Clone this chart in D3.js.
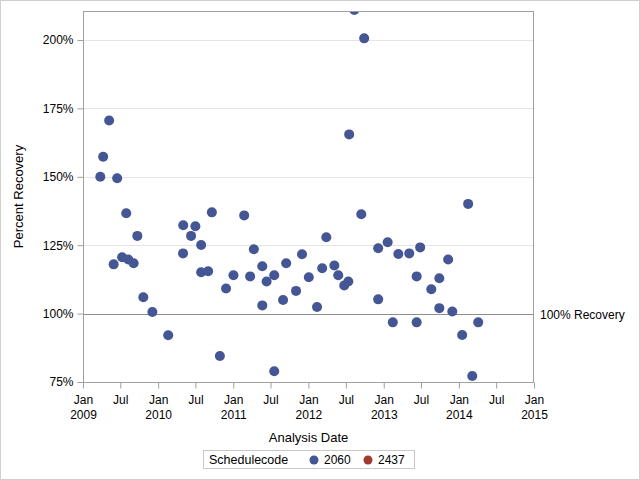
<!DOCTYPE html>
<html>
<head>
<meta charset="utf-8">
<script src="https://cdn.jsdelivr.net/npm/d3@7"></script>
<style>
  body { margin: 0; background: #fff; }
  svg { display: block; font-family: "Liberation Sans", Arial, sans-serif; }
</style>
</head>
<body>
<svg id="chart" width="640" height="480"></svg>
<script>
// ---- data ----
const dates2060 = [
  "2009-03-26","2009-04-09","2009-05-08","2009-05-30","2009-06-16","2009-07-10","2009-07-30","2009-08-09",
  "2009-09-04","2009-09-22","2009-10-21","2009-12-04","2010-02-19","2010-05-02","2010-05-03","2010-06-10",
  "2010-07-01","2010-07-29","2010-07-29","2010-09-01","2010-09-19","2010-10-28","2010-11-27","2011-01-02",
  "2011-02-23","2011-03-24","2011-04-11","2011-05-22","2011-05-22","2011-06-12","2011-07-19","2011-07-19",
  "2011-08-31","2011-09-15","2011-11-02","2011-12-01","2012-01-03","2012-02-12","2012-03-08","2012-03-28",
  "2012-05-06","2012-05-25","2012-06-23","2012-07-13","2012-07-17","2012-08-11","2012-09-14","2012-09-28",
  "2012-12-05","2012-12-05","2013-01-20","2013-02-14","2013-03-13","2013-05-05","2013-06-10","2013-06-10",
  "2013-06-27","2013-08-20","2013-09-28","2013-09-28","2013-11-10","2013-11-30","2014-01-17","2014-02-15",
  "2014-03-07","2014-04-05"
];
const recovery2060 = [
  150.0,157.3,170.6,118.0,149.5,120.6,136.7,119.8,
  118.4,128.4,106.0,100.6,92.1,122.0,132.3,128.4,
  131.9,125.1,115.1,115.5,137.0,84.5,109.2,114.0,
  135.9,113.6,123.5,117.3,103.0,111.7,114.0,78.9,
  105.0,118.4,108.3,121.7,113.3,102.4,116.6,127.9,
  117.6,114.0,110.3,111.7,165.5,211.0,136.3,200.6,
  123.9,105.2,126.1,96.8,121.8,122.0,113.6,96.8,
  124.2,108.9,112.9,102.0,119.8,100.8,92.2,140.1,
  77.2,96.8
];
const dates2437 = [];
const recovery2437 = [];
const groups = ["2060", "2437"];
const groupColors = ["#445694", "#A23A2E"];
const yTicks = [75, 100, 125, 150, 175, 200];
const refValue = 100;
const refLabel = "100% Recovery";
const xDomain = ["2009-01-01", "2015-01-01"];
const yDomain = [75, 210.6];

// ---- layout ----
const parse = d3.timeParse("%Y-%m-%d");
const svg = d3.select("#chart");
const L = 83, R = 534, T = 11, B = 382;
const x = d3.scaleTime().domain(xDomain.map(parse)).range([L, R]);
const y = d3.scaleLinear().domain(yDomain).range([B, T]);
const color = d3.scaleOrdinal().domain(groups).range(groupColors);

// outer border
svg.append("rect").attr("x", 0.5).attr("y", 0.5).attr("width", 639).attr("height", 479)
  .attr("fill", "none").attr("stroke", "#d0d0d0");

// gridlines
svg.append("g").selectAll("line").data(yTicks.filter(v => v !== refValue && v !== yDomain[0])).join("line")
  .attr("x1", L).attr("x2", R).attr("y1", d => Math.round(y(d)) + 0.5).attr("y2", d => Math.round(y(d)) + 0.5)
  .attr("stroke", "#e4e4e4");

// reference line
const ry = Math.round(y(refValue)) + 0.5;
svg.append("line").attr("x1", L).attr("x2", R).attr("y1", ry).attr("y2", ry).attr("stroke", "#8e8e8e");
svg.append("text").attr("x", 540).attr("y", ry).attr("dy", "0.35em").attr("font-size", 12)
  .attr("fill", "#000").text(refLabel);

// clip
svg.append("clipPath").attr("id", "clip").append("rect")
  .attr("x", L).attr("y", T).attr("width", R - L).attr("height", B - T);

// points
const pts = [];
dates2060.forEach((d, i) => pts.push({ d: parse(d), v: recovery2060[i], g: "2060" }));
dates2437.forEach((d, i) => pts.push({ d: parse(d), v: recovery2437[i], g: "2437" }));
svg.append("g").attr("clip-path", "url(#clip)").selectAll("circle").data(pts).join("circle")
  .attr("cx", p => x(p.d)).attr("cy", p => y(p.v)).attr("r", 5)
  .attr("fill", p => color(p.g));

// frame
svg.append("rect").attr("x", L + 0.5).attr("y", T + 0.5).attr("width", R - L - 1).attr("height", B - T)
  .attr("fill", "none").attr("stroke", "#a0a0a0");

// y axis
const yAxis = svg.append("g").attr("transform", `translate(${L + 0.5},0)`)
  .call(d3.axisLeft(y).tickValues(yTicks).tickSize(6).tickPadding(4).tickFormat(d => d + "%"));
yAxis.select(".domain").remove();
yAxis.selectAll(".tick line").attr("stroke", "#a0a0a0");
yAxis.selectAll("text").attr("font-size", 12).attr("fill", "#000")
  .attr("font-family", "Liberation Sans, Arial, sans-serif");

// x axis
const xTicks = d3.timeMonth.range(parse(xDomain[0]), d3.timeDay.offset(parse(xDomain[1]), 1), 6);
const xAxis = svg.append("g").attr("transform", `translate(0,${B + 0.5})`)
  .call(d3.axisBottom(x).tickValues(xTicks).tickSize(6).tickFormat(""));
xAxis.select(".domain").remove();
xAxis.selectAll(".tick line").attr("stroke", "#a0a0a0");
xAxis.selectAll(".tick").each(function (d) {
  const t = d3.select(this);
  t.append("text").attr("y", 21).attr("text-anchor", "middle").attr("font-size", 12).attr("fill", "#000")
    .attr("font-family", "Liberation Sans, Arial, sans-serif")
    .text(d3.timeFormat("%b")(d));
  if (d.getMonth() === 0) {
    t.append("text").attr("y", 36).attr("text-anchor", "middle").attr("font-size", 12).attr("fill", "#000")
      .attr("font-family", "Liberation Sans, Arial, sans-serif")
      .text(d3.timeFormat("%Y")(d));
  }
});

// axis labels
svg.append("text").attr("x", (L + R) / 2).attr("y", 442).attr("text-anchor", "middle")
  .attr("font-size", 13).text("Analysis Date");
svg.append("text").attr("transform", `translate(23,${(T + B) / 2}) rotate(-90)`)
  .attr("text-anchor", "middle").attr("font-size", 13).text("Percent Recovery");

// legend
const lg = svg.append("g");
lg.append("rect").attr("x", 203.5).attr("y", 450.5).attr("width", 211).attr("height", 18)
  .attr("fill", "#fff").attr("stroke", "#c8c8c8");
lg.append("text").attr("x", 209).attr("y", 464).attr("font-size", 12.5).text("Schedulecode");
const legX = [314, 368];
groups.forEach((g, i) => {
  lg.append("circle").attr("cx", legX[i]).attr("cy", 460).attr("r", 4.5).attr("fill", color(g));
  lg.append("text").attr("x", legX[i] + 10).attr("y", 464).attr("font-size", 12).text(g);
});
</script>
</body>
</html>
